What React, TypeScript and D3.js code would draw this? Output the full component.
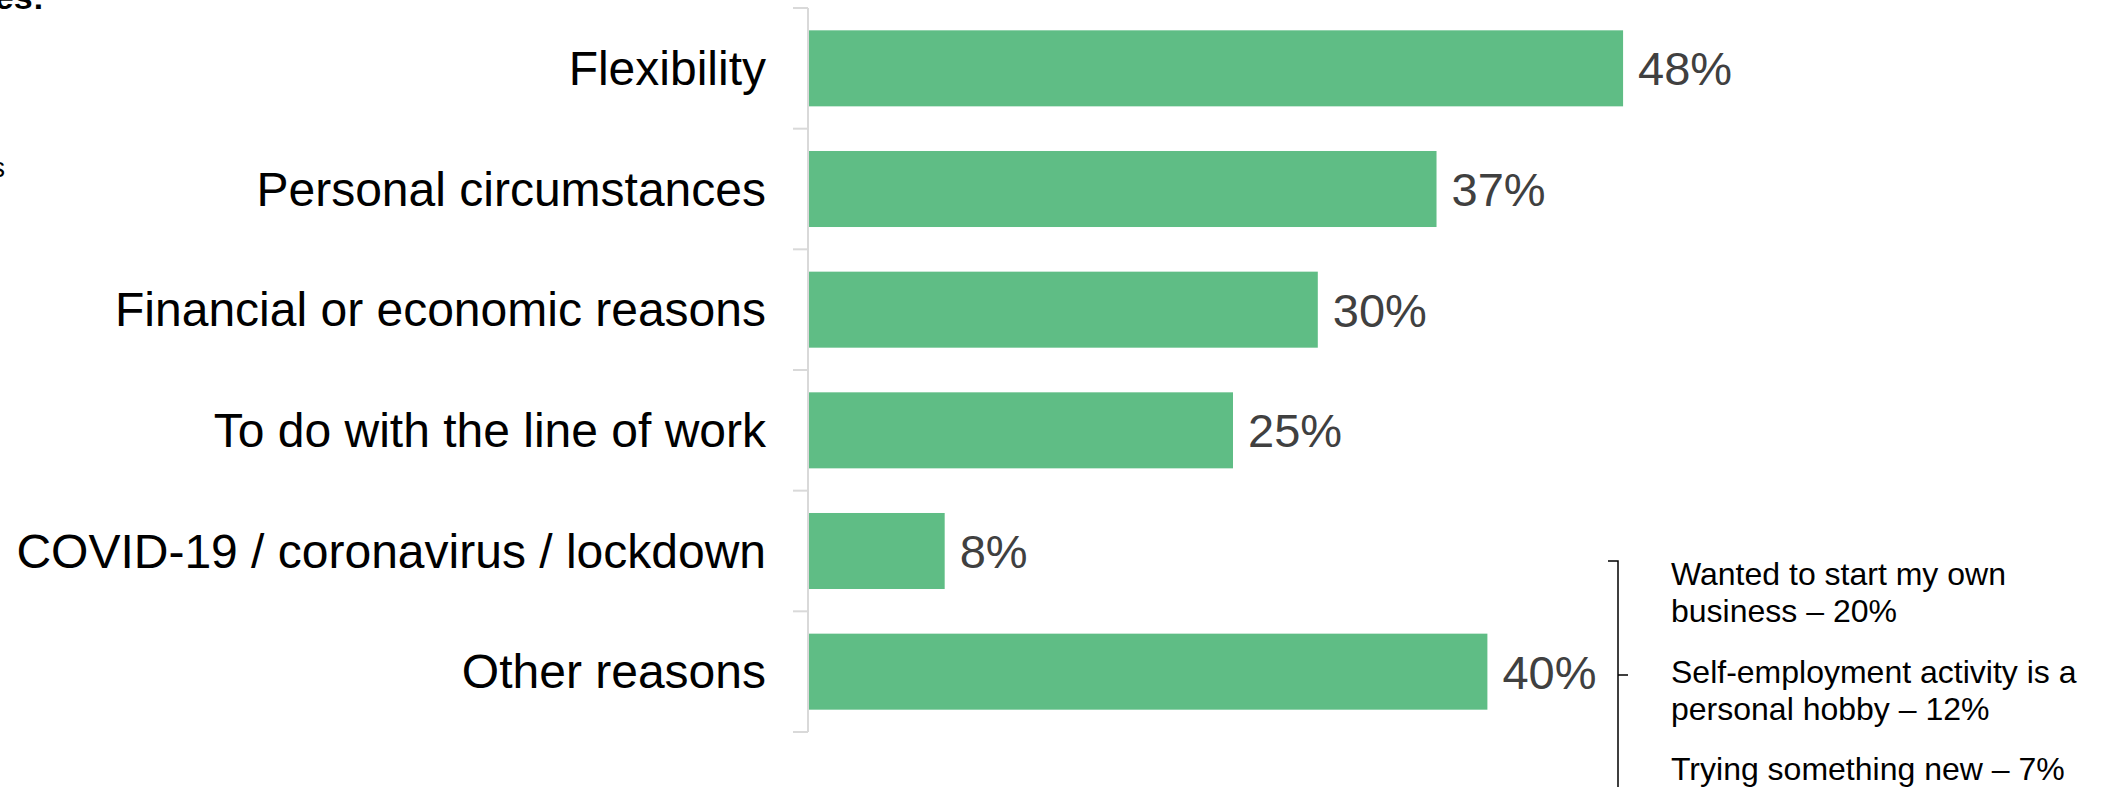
import React from "react";
import * as d3 from "d3";

const categories = [
  "Flexibility",
  "Personal circumstances",
  "Financial or economic reasons",
  "To do with the line of work",
  "COVID-19 / coronavirus / lockdown",
  "Other reasons",
];
const values = [48, 37, 30, 25, 8, 40];
const otherBreakdown = [
  ["Wanted to start my own", "business – 20%"],
  ["Self-employment activity is a", "personal hobby – 12%"],
  ["Trying something new – 7%"],
];

const W = 2103;
const H = 787;

export default function App() {
  const y = d3.scaleBand<string>().domain(categories).range([8, 732]).paddingInner(0.37).paddingOuter(0.185);
  const x = d3.scaleLinear().domain([0, 100]).range([809, 809 + 1696]);
  const axisX = 808;
  const step = y.step();
  const ticks = d3.range(categories.length + 1).map((i) => 8 + i * step);
  const font = "Arial, 'Liberation Sans', sans-serif";

  const annX = 1671;
  const annBaselines = [[585, 622], [683, 720], [780]];

  return (
    <svg width={W} height={H} style={{ position: "absolute", left: 0, top: 0, background: "#fff" }} fontFamily={font}>
      <text x={44} y={9} textAnchor="end" fontWeight="bold" fontSize={34} fill="#000">es:</text>
      <text x={5} y={177} textAnchor="end" fontSize={27} fill="#000">s</text>

      <line x1={axisX} x2={axisX} y1={8} y2={732} stroke="#d9d9d9" strokeWidth={2} />
      {ticks.map((t, i) => (
        <line key={i} x1={793} x2={axisX} y1={t} y2={t} stroke="#d9d9d9" strokeWidth={2} />
      ))}

      {categories.map((c, i) => {
        const yc = (y(c) as number) + y.bandwidth() / 2;
        return (
          <g key={c}>
            <rect x={x(0)} y={y(c)} width={x(values[i]) - x(0)} height={y.bandwidth()} fill="#5fbd85" />
            <text x={766} y={yc} dy="0.35em" textAnchor="end" fontSize={48} fill="#000">{c}</text>
            <text x={x(values[i]) + 15} y={yc} dy="0.36em" fontSize={47} fill="#404040">{values[i]}%</text>
          </g>
        );
      })}

      <path d={`M1608,561 H1618 V800 M1618,675 H1628`} fill="none" stroke="#000" strokeWidth={1.5} />
      {otherBreakdown.map((lines, i) =>
        lines.map((l, j) => (
          <text key={`${i}-${j}`} x={annX} y={annBaselines[i][j]} fontSize={32} fill="#000">{l}</text>
        ))
      )}
    </svg>
  );
}
